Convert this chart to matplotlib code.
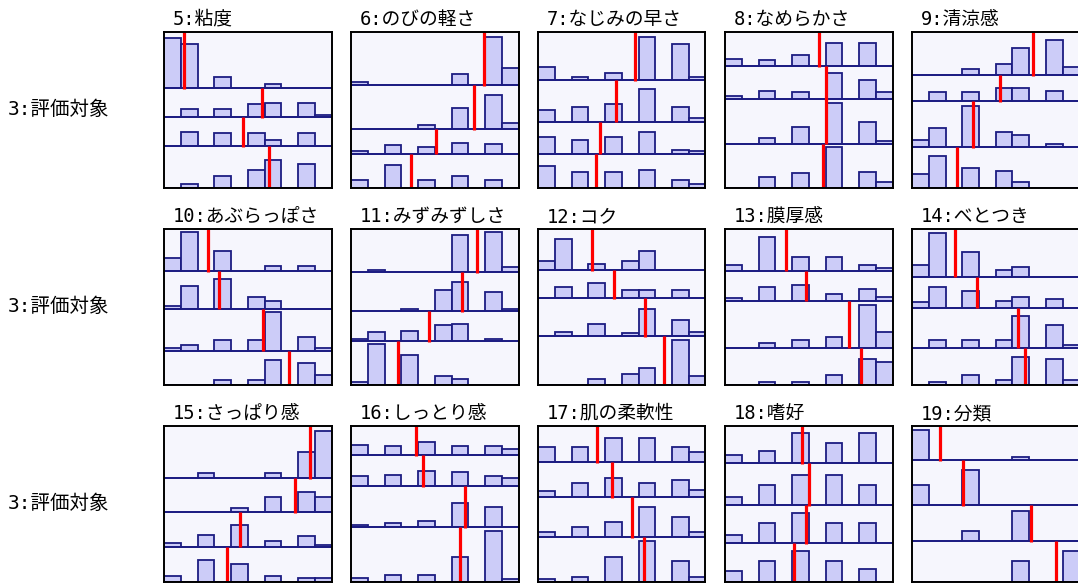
import numpy as np
import matplotlib
matplotlib.use('Agg')
import matplotlib.pyplot as plt

plt.rcParams['font.family'] = ['DejaVu Sans Mono', 'Noto Sans CJK JP']

titles = ['5:粘度', '6:のびの軽さ', '7:なじみの早さ', '8:なめらかさ', '9:清涼感',
          '10:あぶらっぽさ', '11:みずみずしさ', '12:コク', '13:膜厚感', '14:べとつき',
          '15:さっぱり感', '16:しっとり感', '17:肌の柔軟性', '18:嗜好', '19:分類']
row_label = '3:評価対象'

# height of each of the 4 strips in a panel, top strip first
strip_heights = [
    [169, 87, 88, 125], [161, 133, 73, 102], [145, 125, 97, 102], [102, 99, 134, 131], [130, 79, 138, 122],
    [125, 113, 125, 101], [128, 118, 89, 129], [122, 85, 112, 145], [124, 90, 140, 110], [142, 93, 119, 110],
    [156, 101, 104, 104], [87, 93, 123, 162], [108, 105, 120, 132], [111, 126, 114, 114], [102, 135, 108, 120],
]

# histogram counts, 10 bins per strip, top strip first
counts = [
    [[150, 134, 0, 32, 0, 0, 12, 0, 0, 0],
     [0, 23, 0, 23, 0, 39, 42, 0, 42, 7],
     [0, 42, 0, 38, 0, 38, 17, 0, 38, 0],
     [0, 10, 0, 34, 0, 54, 82, 0, 70, 0]],
    [[9, 0, 0, 0, 0, 0, 33, 0, 145, 52],
     [0, 0, 0, 0, 12, 0, 65, 0, 105, 19],
     [8, 0, 25, 0, 21, 0, 33, 0, 28, 0],
     [22, 0, 67, 0, 22, 0, 34, 0, 22, 0]],
    [[40, 0, 8, 0, 21, 0, 129, 0, 109, 8],
     [36, 0, 45, 0, 53, 0, 97, 0, 45, 12],
     [49, 0, 40, 0, 49, 0, 64, 0, 12, 8],
     [66, 0, 46, 0, 46, 0, 54, 0, 22, 10]],
    [[21, 0, 17, 0, 34, 0, 69, 0, 69, 0],
     [8, 0, 24, 0, 20, 0, 77, 0, 56, 20],
     [0, 0, 17, 0, 49, 0, 121, 0, 65, 9],
     [0, 0, 31, 0, 43, 0, 120, 0, 47, 15]],
    [[0, 0, 0, 17, 0, 34, 82, 0, 106, 25],
     [0, 28, 0, 28, 0, 40, 40, 0, 32, 0],
     [21, 57, 0, 125, 0, 45, 37, 0, 9, 0],
     [42, 94, 0, 58, 0, 50, 18, 0, 0, 0]],
    [[39, 116, 0, 60, 0, 0, 16, 0, 16, 0],
     [8, 68, 0, 88, 0, 36, 24, 0, 0, 0],
     [8, 16, 0, 32, 0, 32, 116, 0, 40, 8],
     [0, 0, 0, 12, 0, 12, 72, 0, 64, 28]],
    [[0, 7, 0, 0, 0, 0, 111, 0, 119, 15],
     [0, 0, 0, 8, 0, 65, 89, 0, 57, 8],
     [8, 28, 0, 32, 0, 48, 52, 0, 8, 0],
     [8, 121, 0, 89, 0, 24, 16, 0, 0, 0]],
    [[28, 93, 0, 17, 0, 28, 57, 0, 0, 0],
     [0, 33, 0, 45, 0, 25, 25, 0, 25, 0],
     [0, 12, 0, 36, 0, 8, 81, 0, 48, 12],
     [0, 0, 0, 16, 0, 32, 49, 0, 133, 24]],
    [[16, 0, 99, 0, 39, 0, 39, 0, 16, 8],
     [8, 0, 40, 0, 48, 0, 20, 0, 36, 12],
     [0, 0, 15, 0, 23, 0, 31, 0, 127, 47],
     [0, 0, 8, 0, 8, 0, 28, 0, 76, 68]],
    [[36, 129, 0, 73, 0, 20, 28, 0, 0, 0],
     [16, 61, 0, 49, 0, 21, 33, 0, 25, 0],
     [0, 24, 0, 24, 0, 24, 95, 0, 67, 8],
     [0, 8, 0, 29, 0, 12, 81, 0, 77, 12]],
    [[0, 0, 16, 0, 0, 0, 16, 0, 77, 141],
     [0, 0, 0, 0, 12, 0, 44, 0, 60, 44],
     [12, 0, 36, 0, 64, 0, 16, 0, 32, 4],
     [15, 0, 63, 0, 51, 0, 15, 0, 11, 11]],
    [[30, 0, 27, 0, 39, 0, 27, 0, 27, 18],
     [30, 0, 33, 0, 45, 0, 42, 0, 30, 24],
     [6, 0, 12, 0, 18, 0, 72, 0, 60, 0],
     [9, 0, 18, 0, 18, 0, 72, 0, 150, 6]],
    [[45, 0, 45, 0, 72, 0, 72, 0, 45, 30],
     [18, 0, 42, 0, 57, 0, 42, 0, 51, 21],
     [15, 0, 30, 0, 45, 0, 90, 0, 60, 15],
     [6, 0, 12, 0, 72, 0, 120, 0, 60, 12]],
    [[24, 0, 36, 0, 90, 0, 60, 0, 90, 0],
     [24, 0, 60, 0, 90, 0, 90, 0, 60, 0],
     [24, 0, 60, 0, 90, 0, 60, 0, 60, 0],
     [30, 0, 60, 0, 90, 0, 60, 0, 36, 0]],
    [[90, 0, 0, 0, 0, 0, 9, 0, 0, 0],
     [60, 0, 0, 105, 0, 0, 0, 0, 0, 0],
     [0, 0, 0, 30, 0, 0, 90, 0, 0, 0],
     [0, 0, 0, 0, 0, 0, 60, 0, 0, 90]],
]

# mean of each strip, in bin units (0 to 10)
means = [
    [1.21, 5.83, 4.69, 6.26], [7.94, 7.34, 5.08, 3.61], [5.82, 4.68, 3.72, 3.46],
    [5.62, 6.05, 6.05, 5.87], [7.22, 5.23, 3.64, 2.68],
    [2.62, 3.30, 5.90, 7.46], [7.54, 6.63, 4.64, 2.82], [3.20, 4.52, 6.36, 7.50],
    [3.65, 4.85, 7.42, 8.13], [2.58, 3.90, 6.32, 6.76],
    [8.69, 7.81, 4.51, 3.74], [3.90, 4.30, 6.80, 6.50], [3.50, 4.40, 5.60, 6.30],
    [4.60, 5.00, 4.85, 4.10], [1.70, 3.05, 7.10, 8.60],
]

W, H = 1078, 583
col_left = [164, 351, 538, 725, 912]
row_top = [32, 229, 426]
pw, ph = 167.5, 155.5

fig = plt.figure(figsize=(W / 100, H / 100), dpi=100)
x = np.arange(10) + 0.5

for i, title in enumerate(titles):
    r, c = divmod(i, 5)
    ax = fig.add_axes([col_left[c] / W, 1 - (row_top[r] + ph) / H, pw / W, ph / H])
    ax.set_facecolor('#f6f6fd')
    hs = strip_heights[i]
    total = sum(hs)
    top = total
    for k in range(4):
        base = top - hs[k]
        ax.bar(x, counts[i][k], width=1.0, bottom=base, color='#ccccf8',
               edgecolor='#1c1c82', linewidth=1.3, zorder=2)
        ax.hlines(base, 0, 10, color='#1c1c82', linewidth=1.3, zorder=2)
        ax.vlines(means[i][k], base - 2, top, color='#ff0000', linewidth=2.3, zorder=3)
        top = base
    ax.set_xlim(0, 10)
    ax.set_ylim(0, total)
    ax.set_xticks([])
    ax.set_yticks([])
    for s in ax.spines.values():
        s.set_linewidth(1.4)
        s.set_color('black')
        s.set_zorder(4)
    ax.text(0.05, 1.02, title, transform=ax.transAxes, fontsize=13.5,
            ha='left', va='bottom')

for r in range(3):
    fig.text(8 / W, 1 - (row_top[r] + ph / 2) / H, row_label, fontsize=14,
             ha='left', va='center')

fig.savefig('out.png', dpi=100)
